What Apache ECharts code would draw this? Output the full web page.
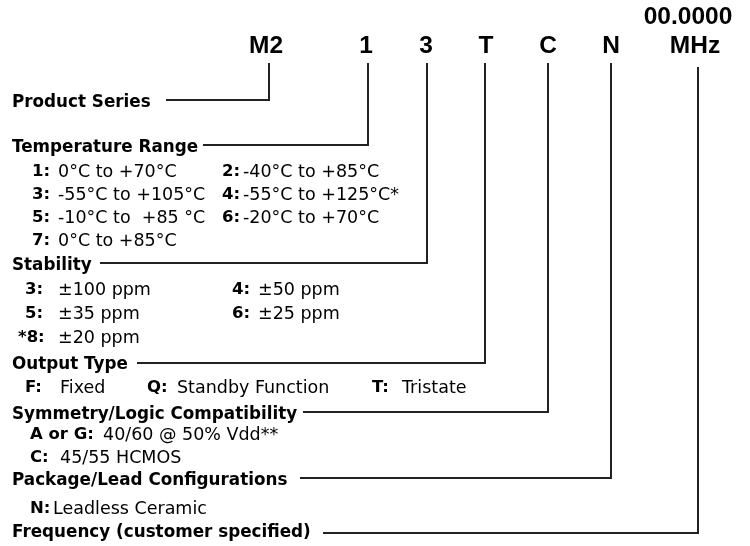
<!DOCTYPE html>
<html>
<head>
<meta charset="utf-8">
<script src="https://cdn.jsdelivr.net/npm/echarts@6/dist/echarts.min.js"></script>
<style>html,body{margin:0;padding:0;background:#fff}#c{width:750px;height:546px}</style>
</head>
<body>
<div id="c"></div>
<script>
// ---- content ----
const codes = ['M2', '1', '3', 'T', 'C', 'N', 'MHz'];
const freqCode = '00.0000';
const sections = ['Product Series', 'Temperature Range', 'Stability', 'Output Type',
  'Symmetry/Logic Compatibility', 'Package/Lead Configurations', 'Frequency (customer specified)'];
const tempKeys = ['1:', '2:', '3:', '4:', '5:', '6:', '7:'];
const tempValues = ['0°C to +70°C', '-40°C to +85°C', '-55°C to +105°C', '-55°C to +125°C*',
  '-10°C to  +85 °C', '-20°C to +70°C', '0°C to +85°C'];
const stabilityKeys = ['3:', '4:', '5:', '6:', '*8:'];
const stabilityValues = ['±100 ppm', '±50 ppm', '±35 ppm', '±25 ppm', '±20 ppm'];
const outputKeys = ['F:', 'Q:', 'T:'];
const outputValues = ['Fixed', 'Standby Function', 'Tristate'];
const symmetryKeys = ['A or G:', 'C:'];
const symmetryValues = ['40/60 @ 50% Vdd**', '45/55 HCMOS'];
const packageKeys = ['N:'];
const packageValues = ['Leadless Ceramic'];

// ---- layout (diagram coordinate space) ----
const codeX = [266, 366, 426, 486, 548, 611, 695];
const codeY = 46;
const freqPos = [688, 17];
const sectionX = 12;
const sectionY = [103, 148, 266, 365, 415, 481, 533];
const leaderStartX = [166, 203, 100, 137, 303, 300, 323];
const leaderY = [100, 145, 263, 363, 412, 478, 533];
const leaderCornerX = [269, 368, 427, 485, 548, 611, 698];
const leaderTopY = [63, 63, 63, 63, 63, 63, 67];
// [keyX, valueX, y] for each option item
const tempPos = [[32, 58, 172], [222, 243, 172], [32, 58, 195], [222, 243, 195],
  [32, 58, 218], [222, 243, 218], [32, 58, 241]];
const stabilityPos = [[25, 58, 290], [232, 258, 290], [25, 58, 314], [232, 258, 314], [18, 58, 338]];
const outputPos = [[25, 60, 388], [147, 177, 388], [372, 402, 388]];
const symmetryPos = [[30, 103, 435], [30, 60, 458]];
const packagePos = [[30, 53, 509]];

const INK = '#000';
const TXT = 'DejaVu Sans';

const chart = echarts.init(document.getElementById('c'), null, { renderer: 'canvas' });

const series = [];

// leader lines
for (let i = 0; i < codes.length; i++) {
  series.push({
    type: 'line', silent: true, symbol: 'none', animation: false,
    lineStyle: { color: '#222', width: 2, join: 'miter' },
    data: [[leaderStartX[i], leaderY[i]], [leaderCornerX[i], leaderY[i]], [leaderCornerX[i], leaderTopY[i]]]
  });
}

function textSeries(points, labelOpt) {
  return {
    type: 'scatter', silent: true, animation: false, symbolSize: 0,
    itemStyle: { color: INK, opacity: 1 },
    label: Object.assign({ show: true, formatter: p => p.data.t, color: INK, opacity: 1,
      textBorderWidth: 0, textShadowBlur: 0 }, labelOpt),
    data: points
  };
}

// code letters
const codePts = codes.map((c, i) => ({ value: [codeX[i], codeY], t: c }));
codePts.push({ value: freqPos, t: freqCode });
series.push(textSeries(codePts, {
  position: 'inside', fontFamily: 'Liberation Sans', fontWeight: 'bold', fontSize: 24.5
}));

// section titles
series.push(textSeries(sections.map((s, i) => ({ value: [sectionX, sectionY[i]], t: s })), {
  position: 'right', distance: 0, fontFamily: TXT, fontWeight: 'bold', fontSize: 16.8
}));

// option items
const groups = [
  [tempKeys, tempValues, tempPos],
  [stabilityKeys, stabilityValues, stabilityPos],
  [outputKeys, outputValues, outputPos],
  [symmetryKeys, symmetryValues, symmetryPos],
  [packageKeys, packageValues, packagePos]
];
const keyPts = [], valPts = [];
groups.forEach(([keys, vals, pos]) => {
  keys.forEach((k, i) => {
    keyPts.push({ value: [pos[i][0], pos[i][2]], t: k });
    valPts.push({ value: [pos[i][1], pos[i][2]], t: vals[i] });
  });
});
series.push(textSeries(keyPts, {
  position: 'right', distance: 0, fontFamily: TXT, fontWeight: 'bold', fontSize: 16.5
}));
series.push(textSeries(valPts, {
  position: 'right', distance: 0, fontFamily: TXT, fontWeight: 'normal', fontSize: 17.5
}));

chart.setOption({
  backgroundColor: '#fff',
  animation: false,
  grid: { left: 0, right: 0, top: 0, bottom: 0 },
  xAxis: { type: 'value', min: 0, max: 750, show: false },
  yAxis: { type: 'value', min: 0, max: 546, inverse: true, show: false },
  series: series
});
</script>
</body>
</html>
